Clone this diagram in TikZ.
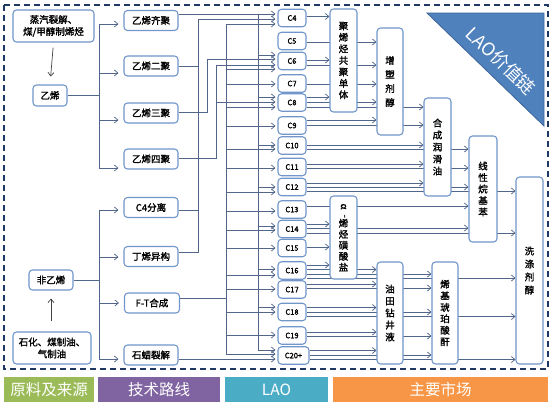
\documentclass[tikz,border=0pt]{standalone}
\usepackage{fontspec}
\setmainfont{Noto Sans CJK SC}
\newfontfamily\bcjk[FakeBold=1.6]{Noto Sans CJK SC}
\usepackage{graphicx}
\usetikzlibrary{arrows.meta}
\pgfdeclarelayer{bg}
\pgfsetlayers{bg,main}
\definecolor{nodeborder}{RGB}{112,150,202}
\definecolor{lineC}{RGB}{82,102,138}
\definecolor{dashC}{RGB}{31,56,100}
\definecolor{triC}{RGB}{79,129,189}
\definecolor{triB}{RGB}{60,100,155}
\definecolor{barG}{RGB}{155,187,89}
\definecolor{barP}{RGB}{128,100,162}
\definecolor{barT}{RGB}{75,172,198}
\definecolor{barO}{RGB}{247,150,70}
\newcommand{\pcon}[3]{\draw[arr] (#1.east |- 0,#3) -- (#2.west |- 0,#3);}
\newcommand{\vcon}[3]{\draw[arr,shorten >=2pt] (#1,#3) -- (#2.west |- 0,#3);}
\begin{document}
\begin{tikzpicture}[x=1pt,y=-1pt,
  box/.style={draw=nodeborder, line width=1.1pt, rounded corners=3.5pt, fill=white, inner sep=0pt, align=center, text=black},
  src/.style={box, font=\fontsize{9.5}{12}\selectfont\bcjk},
  tech/.style={box, minimum width=54pt, minimum height=20pt, font=\fontsize{9.5}{11}\selectfont\bcjk},
  cn/.style={box, minimum width=28pt, minimum height=17.5pt, font=\fontsize{7.5}{9}\selectfont\bcjk},
  prod/.style={box, minimum width=27pt, font=\fontsize{9.5}{11.5}\selectfont\bcjk},
  bar/.style={inner sep=0pt, minimum height=25pt, text=white, font=\fontsize{15.5}{18}\selectfont},
  ln/.style={draw=lineC, line width=0.75pt},
  arr/.style={ln, -{Straight Barb[length=3.5pt,width=6pt,line width=0.75pt]}},
  darr/.style={draw=black!75, line width=0.7pt, -{Straight Barb[length=3.5pt,width=6pt]}}
]
\useasboundingbox (0,0) rectangle (554,407);

% frame
\draw[dashC, line width=1.5pt, dash pattern=on 6pt off 4pt] (4,5) rectangle (548,369);

% triangle
\fill[triC, draw=triB, line width=0.8pt] (427,13) -- (544,13) -- (544,126) -- cycle;
\node[rotate=-44, text=white, font=\fontsize{18}{20}\selectfont] (tri) at (501,61) {LAO价值链};

% sources
\node[src, minimum width=81pt, minimum height=32pt] (s1) at (53.5,26) {蒸汽裂解、\\煤/甲醇制烯烃};
\node[src, minimum width=34pt, minimum height=21pt] (eth) at (50,95.5) {乙烯};
\node[src, minimum width=44pt, minimum height=20pt] (neth) at (51,280) {非乙烯};
\node[src, minimum width=78pt, minimum height=32pt] (s2) at (52,348) {石化、煤制油、\\气制油};

% technology routes
\node[tech] (t1) at (151,20.5) {乙烯齐聚};
\node[tech] (t2) at (151,66) {乙烯二聚};
\node[tech] (t3) at (151,113) {乙烯三聚};
\node[tech] (t4) at (151,159) {乙烯四聚};
\node[tech] (t5) at (151,207.5) {C4分离};
\node[tech] (t6) at (151,256.5) {丁烯异构};
\node[tech, minimum width=55pt] (t7) at (152,303) {F-T合成};
\node[tech] (t8) at (151,355) {石蜡裂解};

% LAO nodes
\node[cn] (c4) at (292,18) {C4};
\node[cn] (c5) at (292,41) {C5};
\node[cn] (c6) at (292,61) {C6};
\node[cn] (c7) at (292,83.5) {C7};
\node[cn] (c8) at (292,102.5) {C8};
\node[cn] (c9) at (292,125.5) {C9};
\node[cn] (c10) at (292,145.5) {C10};
\node[cn] (c11) at (292,167) {C11};
\node[cn] (c12) at (292,187) {C12};
\node[cn] (c13) at (292,209.5) {C13};
\node[cn] (c14) at (292,229) {C14};
\node[cn] (c15) at (292,248) {C15};
\node[cn] (c16) at (292,270.5) {C16};
\node[cn] (c17) at (292,289.5) {C17};
\node[cn] (c18) at (292,312) {C18};
\node[cn] (c19) at (292,335.5) {C19};
\node[cn, minimum width=31pt] (c20) at (293.5,355.5) {C20+};

% markets
\node[prod, minimum height=103pt] (p1) at (343.5,60.5) {聚\\烯\\烃\\共\\聚\\单\\体};
\node[prod, minimum width=26pt, minimum height=107pt, font=\fontsize{9.5}{14}\selectfont\bcjk] (p2) at (390,81.5) {增\\塑\\剂\\醇};
\node[prod, minimum height=98pt, font=\fontsize{9.5}{12}\selectfont\bcjk] (p3) at (437.5,147) {合\\成\\润\\滑\\油};
\node[prod, minimum width=28pt, minimum height=106pt] (p4) at (483,189) {线\\性\\烷\\基\\苯};
\node[prod, minimum height=187pt, font=\fontsize{9.5}{13}\selectfont\bcjk] (p5) at (529.5,270.5) {洗\\涤\\剂\\醇};
\node[prod, minimum height=83pt, font=\fontsize{9.5}{11}\selectfont\bcjk] (p6) at (343.5,237.5) {\rotatebox{-90}{α}\\\rotatebox{-90}{-}\\烯\\烃\\磺\\酸\\盐};
\node[prod, minimum width=26pt, minimum height=102pt, font=\fontsize{9.5}{12}\selectfont\bcjk] (p7) at (390,313) {油\\田\\钻\\井\\液};
\node[prod, minimum width=26pt, minimum height=102pt, font=\fontsize{9.5}{11.5}\selectfont\bcjk] (p8) at (445,313) {烯\\基\\琥\\珀\\酸\\酐};

% bottom bars
\node[bar, fill=barG, minimum width=90pt] (b1) at (49,389.5) {原料及来源};
\node[bar, fill=barP, minimum width=122pt] (b2) at (159,389.5) {技术路线};
\node[bar, fill=barT, minimum width=103pt] (b3) at (276.5,389.5) {LAO};
\node[bar, fill=barO, minimum width=215pt] (b4) at (440.5,389.5) {主要市场};

\begin{pgfonlayer}{bg}
% sources to feedstocks
\draw[darr, shorten <=5pt, shorten >=8pt] (s1.south) -- (eth.north);
\draw[darr, shorten <=10pt, shorten >=8pt] (s2.north -| neth.south) -- (neth.south);

% ethylene trunk
\coordinate (ka) at (99,24);
\coordinate (kb) at (99,168);
\draw[ln] (eth.east) -- (eth.east -| ka);
\draw[ln] (ka) -- (kb);
\foreach \n/\y in {t1/24,t2/73,t3/120,t4/168}
  {\draw[arr, shorten >=5pt] (99,\y) -- (\n.west |- 0,\y);}

% non-ethylene trunk
\coordinate (kc) at (99,210);
\coordinate (kd) at (99,359);
\draw[ln] (neth.east) -- (neth.east -| kc);
\draw[ln] (kc) -- (kd);
\foreach \n/\y in {t5/210,t6/257,t7/303,t8/359}
  {\draw[arr, shorten >=5pt] (99,\y) -- (\n.west |- 0,\y);}

% ethylene oligomerisation -> even
\draw[arr, shorten >=2pt] (t1.east |- 0,14) -- (c4.west |- 0,14);
\coordinate (oa) at (258,14);
\coordinate (ob) at (258,350);
\draw[ln] (oa) -- (ob);
\foreach \n/\y in {c6/55,c8/97,c10/145,c12/187,c14/226,c16/269,c18/307,c20/350}
  {\vcon{258}{\n}{\y}}

% C4 routes
\draw[ln] (t2.east) -- (t2.east -| 198,0);
\draw[ln] (t5.east |- 0,210) -- (198,210);
\draw[ln] (t6.east |- 0,252) -- (198,252) -- (198,19);
\vcon{198}{c4}{19}

% trimerisation
\draw[ln] (t3.east |- 0,112) -- (207,112) -- (207,59);
\vcon{207}{c6}{59}

% tetramerisation
\draw[ln] (t4.east |- 0,158) -- (216,158) -- (216,65);
\vcon{216}{c6}{65}
\vcon{216}{c8}{102}

% F-T
\draw[ln] (t7.east |- 0,298) -- (226,298);
\coordinate (fa) at (226,24);
\coordinate (fb) at (226,354);
\draw[ln] (fa) -- (fb);
\foreach \n/\y in {c4/24,c6/69,c7/84,c8/107,c9/126,c10/149,c11/168,c12/192,c13/211,c14/230,c15/248,c16/275,c17/289,c18/312,c19/335,c20/354}
  {\vcon{226}{\n}{\y}}

% wax cracking
\draw[arr, shorten >=2pt] (t8.east |- 0,359) -- (c20.west |- 0,359);

% LAO -> markets
\pcon{c4}{p1}{16.5}
\pcon{c5}{p2}{42}
\pcon{c6}{p1}{60}
\pcon{c6}{p2}{65}
\pcon{c7}{p2}{84}
\pcon{c8}{p1}{97}
\pcon{c8}{p2}{102}
\pcon{c8}{p3}{107}
\pcon{c9}{p2}{120}
\pcon{c9}{p3}{125}
\pcon{c10}{p3}{145}
\pcon{c10}{p4}{149}
\pcon{c11}{p3}{164}
\pcon{c11}{p4}{168}
\pcon{c12}{p3}{183}
\pcon{c12}{p4}{187}
\pcon{c12}{p5}{191}
\pcon{c13}{p4}{206}
\pcon{c14}{p6}{224}
\pcon{c14}{p4}{228}
\pcon{c14}{p5}{233}
\pcon{c15}{p6}{247}
\pcon{c16}{p6}{265}
\pcon{c16}{p7}{269.5}
\pcon{c16}{p8}{274}
\pcon{c16}{p5}{278}
\pcon{c17}{p7}{284}
\pcon{c17}{p8}{288}
\pcon{c18}{p7}{307.5}
\pcon{c18}{p8}{312}
\pcon{c18}{p5}{316.5}
\pcon{c19}{p7}{332}
\pcon{c19}{p8}{336}
\pcon{c20}{p7}{350.5}
\pcon{c20}{p8}{355}
\pcon{c20}{p5}{359.5}
\end{pgfonlayer}
\end{tikzpicture}
\end{document}
